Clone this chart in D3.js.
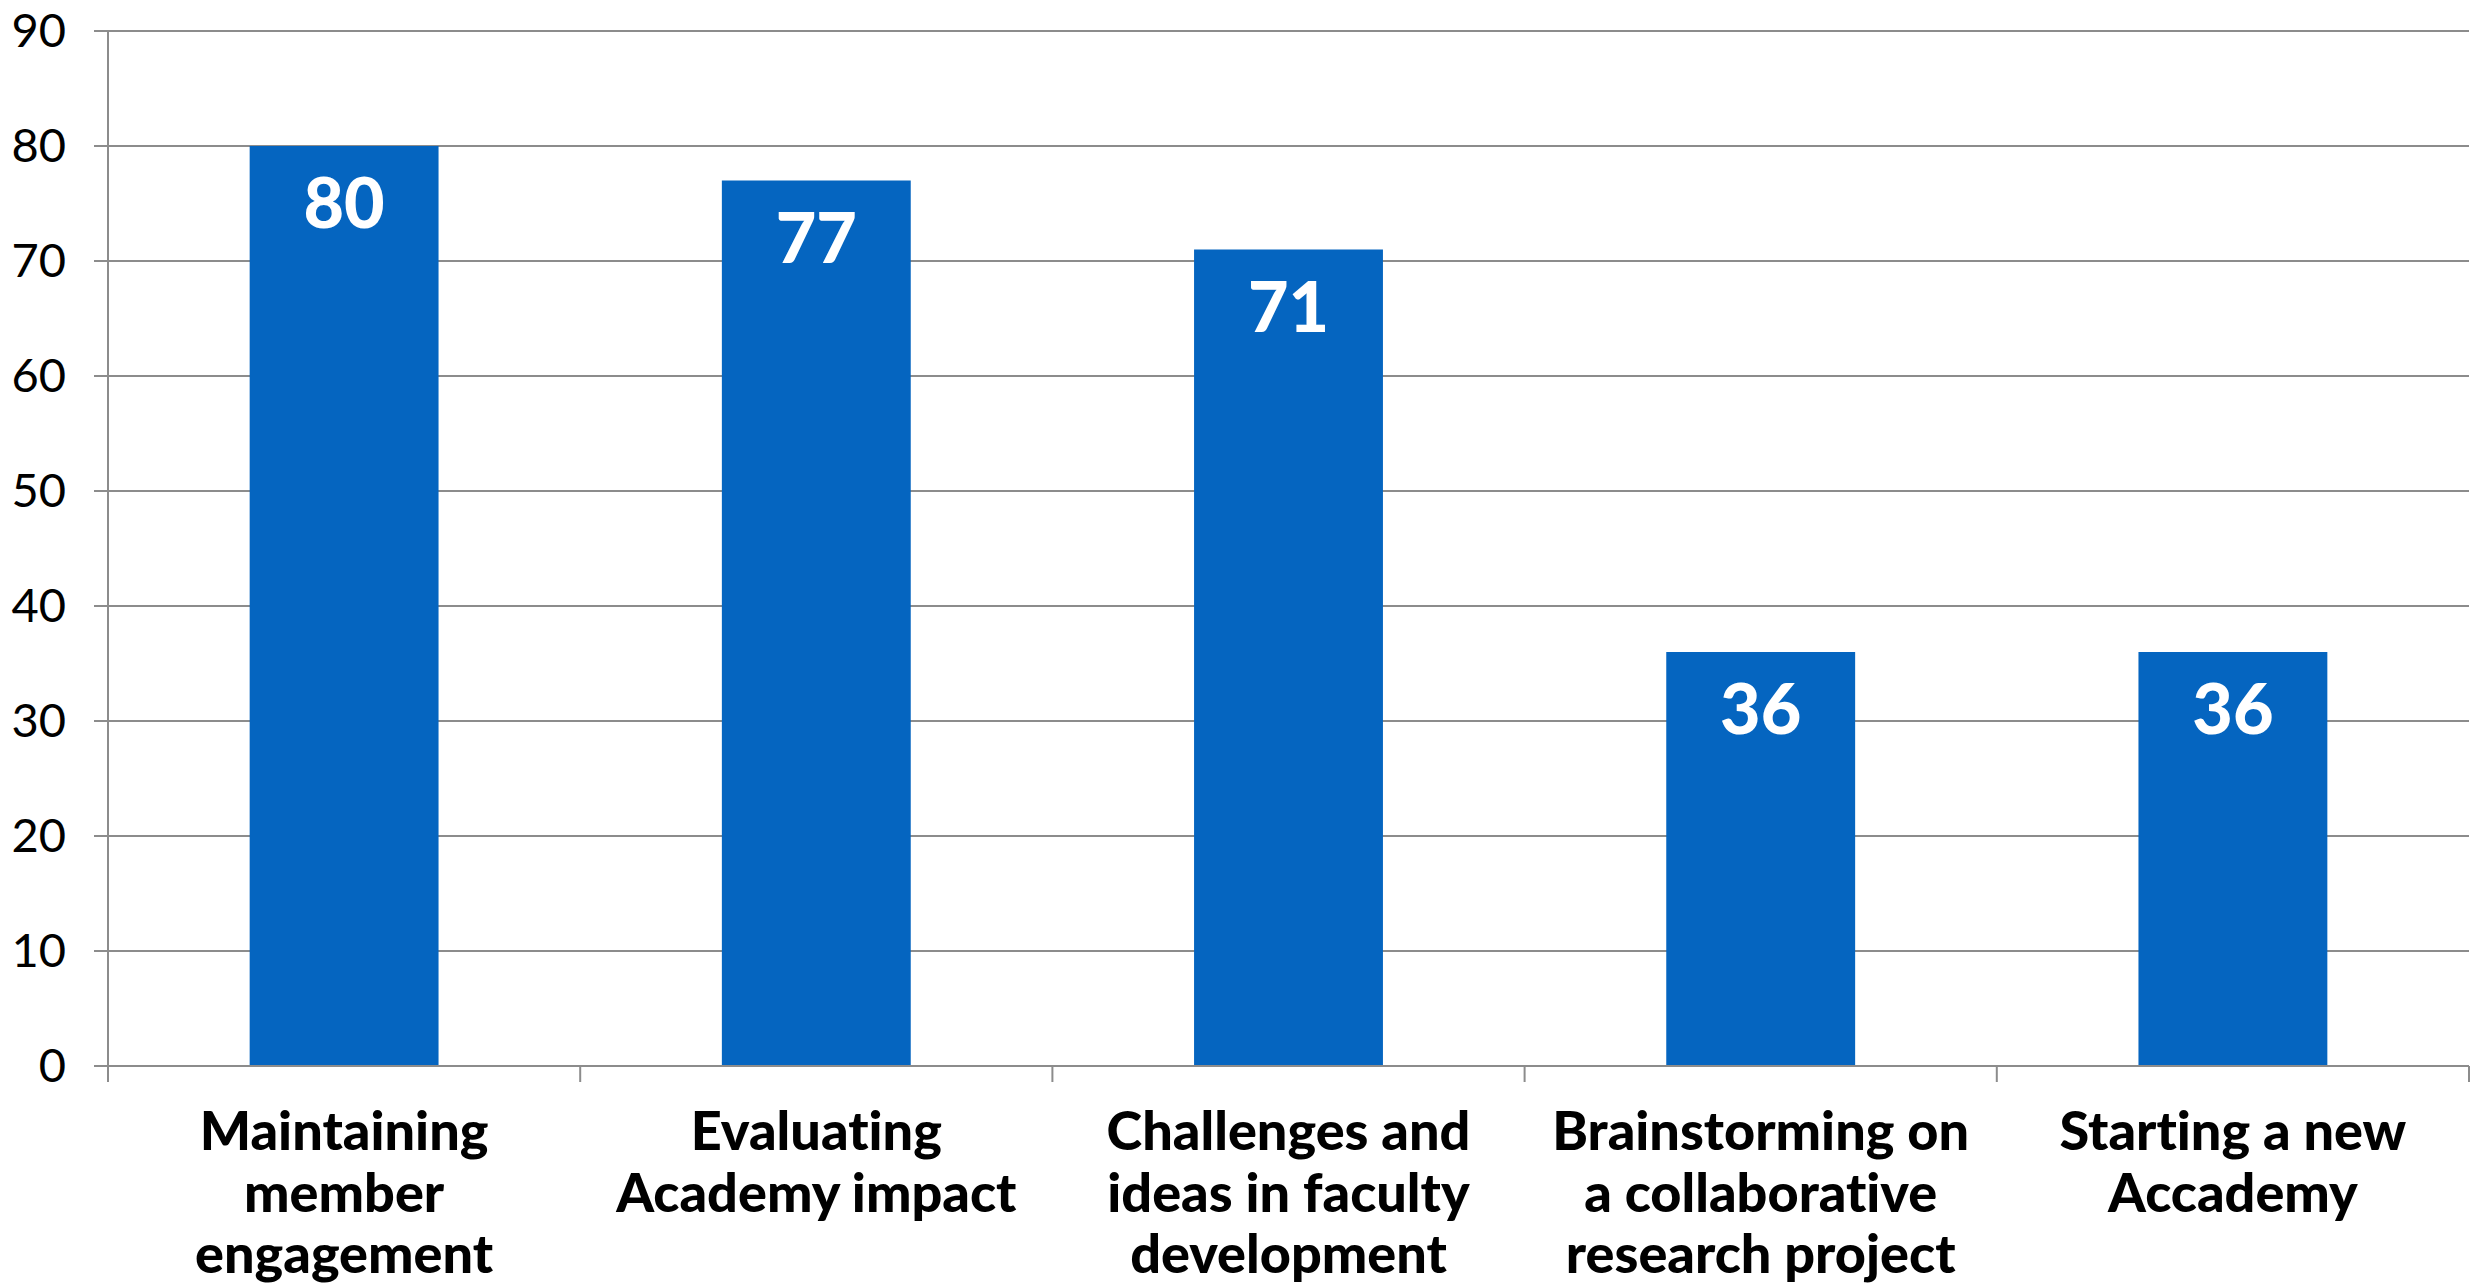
<!DOCTYPE html>
<html>
<head>
<meta charset="utf-8">
<script src="https://cdn.jsdelivr.net/npm/d3@7"></script>
<style>
  body { margin: 0; background: #fff; }
  svg { display: block; }
  text { font-variant-ligatures: none; }
</style>
</head>
<body>
<div id="chart"></div>
<script>
// data
var categories = [
  "Maintaining member engagement",
  "Evaluating Academy impact",
  "Challenges and ideas in faculty development",
  "Brainstorming on a collaborative research project",
  "Starting a new Accademy"
];
var categoryLines = [
  ["Maintaining", "member", "engagement"],
  ["Evaluating", "Academy impact"],
  ["Challenges and", "ideas in faculty", "development"],
  ["Brainstorming on", "a collaborative", "research project"],
  ["Starting a new", "Accademy"]
];
var values = [80, 77, 71, 36, 36];
var yTicks = [0, 10, 20, 30, 40, 50, 60, 70, 80, 90];

var W = 2484, H = 1285;
var mLeft = 108, mRight = 2469, mTop = 31, mBottom = 1066;
var gridColor = "#8c8c8c";
var barColor = "#0565c0";
var font = "Lato, 'Open Sans', sans-serif";

var svg = d3.select("#chart").append("svg")
  .attr("width", W)
  .attr("height", H);

var y = d3.scaleLinear().domain([0, 90]).range([mBottom, mTop]);

var x = d3.scaleBand()
  .domain(categories)
  .range([mLeft, mRight])
  .paddingInner(0.6)
  .paddingOuter(0.3);

// category boundaries (for x ticks)
var xb = d3.scaleBand().domain(categories).range([mLeft, mRight]);

// gridlines + y ticks
svg.append("g").selectAll("line")
  .data(yTicks)
  .enter().append("line")
  .attr("x1", mLeft - 14)
  .attr("x2", mRight)
  .attr("y1", function(d) { return y(d); })
  .attr("y2", function(d) { return y(d); })
  .attr("stroke", gridColor)
  .attr("stroke-width", 2);

// y labels
svg.append("g").selectAll("text")
  .data(yTicks)
  .enter().append("text")
  .attr("x", 66)
  .attr("y", function(d) { return y(d); })
  .attr("dy", "0.35em")
  .attr("text-anchor", "end")
  .attr("font-family", font)
  .attr("font-size", 47)
  .attr("fill", "#000")
  .text(function(d) { return d; });

// bars
svg.append("g").selectAll("rect")
  .data(values)
  .enter().append("rect")
  .attr("x", function(d, i) { return x(categories[i]); })
  .attr("width", x.bandwidth())
  .attr("y", function(d) { return y(d); })
  .attr("height", function(d) { return y(0) - y(d); })
  .attr("fill", barColor);

// y axis line
svg.append("line")
  .attr("x1", mLeft).attr("x2", mLeft)
  .attr("y1", mTop).attr("y2", mBottom + 16)
  .attr("stroke", gridColor)
  .attr("stroke-width", 2);

// x axis line
svg.append("line")
  .attr("x1", mLeft - 14).attr("x2", mRight)
  .attr("y1", mBottom).attr("y2", mBottom)
  .attr("stroke", gridColor)
  .attr("stroke-width", 2);

// x ticks at category boundaries
var bounds = categories.map(function(c) { return xb(c) + xb.step(); });
svg.append("g").selectAll("line")
  .data(bounds)
  .enter().append("line")
  .attr("x1", function(d) { return d; })
  .attr("x2", function(d) { return d; })
  .attr("y1", mBottom)
  .attr("y2", mBottom + 16)
  .attr("stroke", gridColor)
  .attr("stroke-width", 2);

// value labels
svg.append("g").selectAll("text")
  .data(values)
  .enter().append("text")
  .attr("x", function(d, i) { return x(categories[i]) + x.bandwidth() / 2; })
  .attr("y", function(d) { return y(d) + 82; })
  .attr("text-anchor", "middle")
  .attr("font-family", font)
  .attr("font-weight", 900)
  .attr("font-size", 70)
  .attr("fill", "#fff")
  .text(function(d) { return d; });

// category labels
var cat = svg.append("g").selectAll("text")
  .data(categories)
  .enter().append("text")
  .attr("x", function(d) { return xb(d) + xb.step() / 2; })
  .attr("y", 1150)
  .attr("text-anchor", "middle")
  .attr("font-family", font)
  .attr("font-weight", 900)
  .attr("font-size", 54)
  .attr("fill", "#000");

cat.selectAll("tspan")
  .data(function(d, i) { return categoryLines[i]; })
  .enter().append("tspan")
  .attr("x", function() { return d3.select(this.parentNode).attr("x"); })
  .attr("dy", function(d, i) { return i === 0 ? 0 : 61.5; })
  .text(function(d) { return d; });
</script>
</body>
</html>
